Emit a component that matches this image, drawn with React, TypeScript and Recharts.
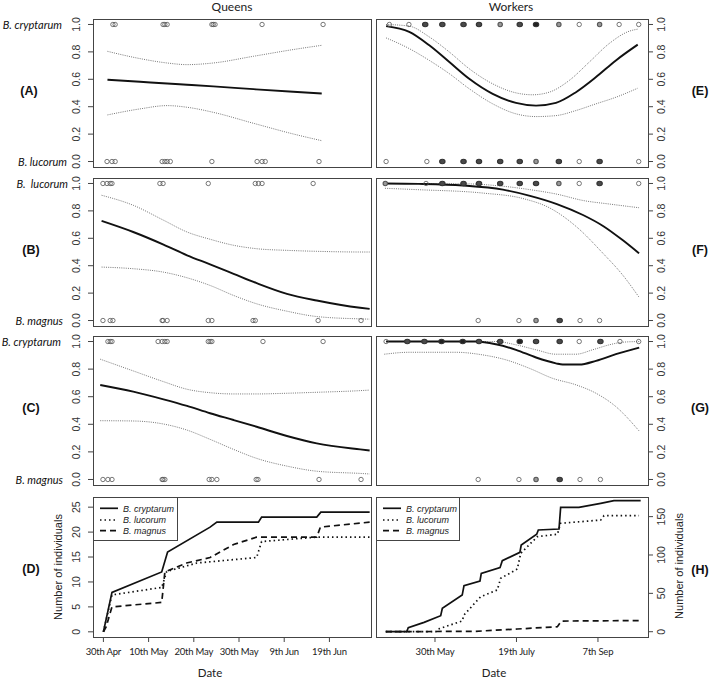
import React from 'react';
import { ComposedChart, Line, Scatter, XAxis, YAxis } from 'recharts';

type Pt = [number, number];

// x values are day of year (30th Apr = 120)
const queenTickDays = [120, 130, 140, 150, 160, 170];
const queenTickLabels = ['30th Apr', '10th May', '20th May', '30th May', '9th Jun', '19th Jun'];
const workerTickDays = [150, 200, 250];
const workerTickLabels = ['30th May', '19th July', '7th Sep'];
const probTicks = [0, 0.2, 0.4, 0.6, 0.8, 1];
const queenCountTicks = [0, 5, 10, 15, 20, 25];
const workerCountTicks = [0, 50, 100, 150];
const species = ['B. cryptarum', 'B. lucorum', 'B. magnus'];
const rowSpecies = [
  ['B. cryptarum', 'B. lucorum'],
  ['B.  lucorum', 'B. magnus'],
  ['B. cryptarum', 'B. magnus'],
];

// (A) queens, cryptarum vs lucorum
const aFit: Pt[] = [[120.9, 0.597], [128.1, 0.582], [134.1, 0.569], [138.5, 0.56], [144.3, 0.548], [153.2, 0.528], [162, 0.509], [168.3, 0.496]];
const aUpper: Pt[] = [[120.9, 0.804], [128.1, 0.751], [134.1, 0.719], [138.5, 0.707], [144.3, 0.719], [153.2, 0.768], [162, 0.817], [168.3, 0.848]];
const aLower: Pt[] = [[120.9, 0.34], [128.1, 0.384], [134.1, 0.408], [138.5, 0.396], [144.3, 0.359], [153.2, 0.279], [162, 0.201], [168.3, 0.152]];
const aTop = [122.1, 122.6, 133.2, 133.6, 134.1, 144.0, 144.3, 144.7, 155.1, 168.6];
const aBottom = [120.8, 121.9, 122.6, 133.0, 133.6, 134.1, 134.8, 144.0, 154.0, 155.1, 155.8, 167.7];

// (B) queens, lucorum vs magnus
const bFit: Pt[] = [[119.6, 0.727], [126.6, 0.646], [133.3, 0.554], [138.5, 0.476], [143.6, 0.41], [148.8, 0.341], [153.9, 0.273], [160.6, 0.195], [167.2, 0.146], [176.8, 0.093], [178.9, 0.085]];
const bUpper: Pt[] = [[119.6, 0.914], [126.6, 0.841], [133.3, 0.732], [138.5, 0.646], [143.6, 0.593], [148.8, 0.549], [153.9, 0.524], [160.6, 0.512], [167.2, 0.505], [176.8, 0.5], [178.9, 0.5]];
const bLower: Pt[] = [[119.6, 0.39], [126.6, 0.378], [133.3, 0.353], [138.5, 0.312], [143.6, 0.256], [148.8, 0.183], [153.9, 0.122], [160.6, 0.068], [167.2, 0.029], [176.8, 0.012], [178.9, 0.01]];
const bTop = [119.9, 120.8, 121.5, 121.9, 132.5, 133.2, 143.2, 153.6, 154.3, 155.1, 166.4];
const bBottom = [119.9, 121.5, 122.1, 133, 133.2, 134.1, 143.2, 144, 153.1, 153.6, 167.5, 177];

// (C) queens, cryptarum vs magnus
const cFit: Pt[] = [[119.3, 0.685], [126.6, 0.637], [133.3, 0.581], [138.5, 0.533], [143.6, 0.48], [148.8, 0.431], [153.9, 0.382], [160.6, 0.315], [167.2, 0.262], [176.8, 0.218], [178.9, 0.21]];
const cUpper: Pt[] = [[119.3, 0.872], [126.6, 0.787], [133.3, 0.709], [138.5, 0.654], [143.6, 0.629], [148.8, 0.62], [153.9, 0.62], [160.6, 0.625], [167.2, 0.632], [176.8, 0.644], [178.9, 0.648]];
const cLower: Pt[] = [[119.3, 0.426], [126.6, 0.424], [133.3, 0.402], [138.5, 0.358], [143.6, 0.291], [148.8, 0.218], [153.9, 0.153], [160.6, 0.097], [167.2, 0.06], [176.8, 0.044], [178.9, 0.04]];
const cTop = [121, 121.5, 121.9, 132.1, 133, 133.6, 134.1, 143.2, 143.6, 144, 155.3, 168.6];
const cBottom = [119.9, 121, 121.9, 133, 133.2, 133.6, 143.4, 144, 145.1, 153.8, 154.2, 167.7, 177];

// (D) queens, cumulative counts
const dCryptarum: Pt[] = [[120, 0], [121.9, 7.9], [132.9, 12], [134.2, 16], [143.6, 21], [145.1, 22], [154.3, 22], [155, 23], [167.2, 23], [168.1, 24], [178.9, 24]];
const dLucorum: Pt[] = [[120, 0], [121.9, 7.4], [132.9, 8.9], [134, 12.1], [140.7, 13.8], [153.9, 14.9], [155, 18.1], [167.2, 19], [178.9, 19]];
const dMagnus: Pt[] = [[120, 0], [120.6, 1], [121.9, 5], [132.9, 5.9], [133.6, 12], [138.4, 13.8], [143.6, 14.9], [148.8, 17.5], [153.9, 19], [167.2, 19], [168, 21], [178.9, 22]];

// (E) workers, cryptarum vs lucorum  (points: [day, overlap count])
const eFit: Pt[] = [[120, 0.988], [134.2, 0.946], [146.5, 0.848], [158.8, 0.726], [171, 0.604], [185.4, 0.494], [199.7, 0.428], [212, 0.408], [224.2, 0.428], [236.5, 0.506], [248.8, 0.616], [261, 0.738], [274.4, 0.853]];
const eUpper: Pt[] = [[120, 1.0], [134.2, 0.988], [146.5, 0.909], [158.8, 0.799], [171, 0.677], [185.4, 0.567], [199.7, 0.501], [209.9, 0.487], [220.1, 0.506], [232.4, 0.592], [244.7, 0.726], [256.9, 0.861], [269.2, 0.951], [274.4, 0.966]];
const eLower: Pt[] = [[120, 0.902], [134.2, 0.824], [146.5, 0.738], [158.8, 0.641], [171, 0.531], [185.4, 0.421], [199.7, 0.348], [212, 0.328], [224.2, 0.335], [236.5, 0.372], [248.8, 0.421], [261, 0.469], [274.4, 0.535]];
const eTop: Pt[] = [[122, 1], [134, 1], [144, 3], [154.5, 3], [167.5, 3], [177, 3], [190, 2], [202, 3], [212, 4], [226, 2], [238.5, 1], [251, 2], [263, 1], [275, 1]];
const eBottom: Pt[] = [[120, 1], [145, 1], [154.5, 3], [167.5, 3], [177, 3], [190, 3], [202, 3], [212, 2], [226, 3], [238.5, 1], [251, 3], [275, 1]];

// (F) workers, lucorum vs magnus
const fFit: Pt[] = [[119.3, 1.0], [140, 0.997], [167.2, 0.985], [191.7, 0.955], [208.3, 0.91], [224.8, 0.85], [240.8, 0.77], [253.1, 0.69], [265.3, 0.585], [275.2, 0.49]];
const fUpper: Pt[] = [[119.3, 1.0], [167.2, 0.998], [191.7, 0.98], [208.3, 0.955], [224.8, 0.922], [240.8, 0.876], [257, 0.85], [275.2, 0.823]];
const fLower: Pt[] = [[119.3, 0.965], [139, 0.955], [179.4, 0.93], [204, 0.89], [220.6, 0.82], [237.2, 0.68], [253.1, 0.49], [265.3, 0.33], [275.2, 0.17]];
const fTop: Pt[] = [[119.5, 2], [144.5, 1], [154.5, 3], [167.5, 3], [177, 3], [190, 3], [202, 3], [212, 3], [226, 2], [238.5, 1], [251, 3], [275, 1]];
const fBottom: Pt[] = [[176.5, 1], [201.5, 1], [212, 2], [226.5, 3], [239, 1], [251, 1]];

// (G) workers, cryptarum vs magnus
const gFit: Pt[] = [[120, 1.0], [175.2, 1.0], [187.4, 0.98], [199.7, 0.94], [212, 0.884], [224.2, 0.842], [228.3, 0.833], [238.5, 0.833], [248.8, 0.86], [261, 0.908], [275.3, 0.956]];
const gUpper: Pt[] = [[120, 1.0], [187.4, 1.0], [199.7, 0.976], [212, 0.94], [224.2, 0.908], [236.5, 0.908], [246.7, 0.94], [256.9, 0.976], [265.2, 0.995], [275.3, 1.0]];
const gLower: Pt[] = [[118.9, 0.908], [134.2, 0.922], [162.9, 0.922], [179.3, 0.903], [193.6, 0.867], [207.9, 0.806], [222.2, 0.733], [236.5, 0.686], [248.8, 0.625], [261, 0.528], [275.3, 0.351]];
const gTop: Pt[] = [[120, 1], [133, 3], [143.5, 3], [154, 4], [167, 4], [177, 3], [190, 3], [202, 4], [212, 3], [226.5, 3], [238.5, 1], [251.5, 3], [263.5, 1], [275, 1]];
const gBottom: Pt[] = [[176.5, 1], [201.5, 1], [212, 2], [226.5, 3], [239, 1], [251.5, 1]];

// (H) workers, cumulative counts
const hCryptarum: Pt[] = [[119.8, 0], [132.6, 0], [133.6, 5.2], [143.3, 12.2], [153.5, 20.9], [154.5, 30.5], [166.7, 47.8], [167.8, 60], [177.6, 66.1], [178.4, 76.1], [189.9, 83.5], [191.3, 92.6], [202.1, 103.5], [202.9, 113], [212.4, 127], [213.4, 132.6], [226.1, 133.9], [227.1, 162.2], [238.3, 162.2], [251.7, 167.4], [259.8, 170.8], [276.2, 170.8]];
const hLucorum: Pt[] = [[119.8, 0], [150.5, 0], [152, 3.5], [166.7, 14], [167.8, 21.8], [178, 45.6], [188.2, 54.4], [190.3, 69.6], [200.5, 81.7], [202.6, 102.2], [212.8, 123.9], [225.1, 127], [227.1, 141.3], [251.7, 145.6], [253.7, 151.2], [275.2, 151.2]];
const hMagnus: Pt[] = [[119.8, 0], [175, 0.5], [200.5, 3.5], [225.1, 6.5], [227.5, 13.9], [276.2, 14.5]];

const ARIAL = "'Liberation Sans', Arial, sans-serif";
const CAL = "Lato, 'Open Sans', sans-serif";

const QX: [number, number] = [117.7, 179.2];
const WX: [number, number] = [113.8, 280.7];
const PROB_Y: [number, number] = [-0.04, 1.04];

const lineStyles = [
  { dash: undefined as string | undefined, width: 1.7 },
  { dash: '1.5 3', width: 1.7 },
  { dash: '6 4', width: 1.7 },
];

const rows = (pts: Pt[]) => pts.map(([x, y]) => ({ x, y }));
const dots = (days: number[], y: number) => days.map((x) => ({ x, y, n: 1 }));
const dotsN = (pts: Pt[], y: number) => pts.map(([x, n]) => ({ x, y, n }));

const Dot = (p: any) => {
  const { cx, cy, payload } = p;
  const n = payload.n;
  const fill = n >= 4 ? '#222' : n === 3 ? '#4a4a4a' : n === 2 ? '#999' : 'none';
  return (
    <ellipse cx={cx} cy={cy} rx={n >= 3 ? 2.7 : 2.2} ry={2.2} fill={fill}
      stroke={n >= 3 ? '#333' : '#555'} strokeWidth={n >= 2 ? 1.1 : 0.8} />
  );
};

const vTick = (fmt: (v: number) => string) => (p: any) => (
  <text x={p.x} y={p.y} transform={`rotate(-90 ${p.x} ${p.y})`} textAnchor="middle"
    fontSize={10.5} fill="#333" fontFamily={ARIAL}>{fmt(p.payload.value)}</text>
);

const xTick = (days: number[], labels: string[]) => (p: any) => (
  <text x={p.x} y={p.y + 11} textAnchor="middle" fontSize={9.5} letterSpacing={-0.2} fill="#222" fontFamily={CAL}>
    {labels[days.indexOf(p.payload.value)]}
  </text>
);

const bandLines = (fit: Pt[], upper: Pt[], lower: Pt[]) => [
  <Line key="up" data={rows(upper)} dataKey="y" type="monotone" stroke="#666" strokeWidth={0.9}
    strokeDasharray="1 1.2" dot={false} activeDot={false} isAnimationActive={false} />,
  <Line key="lo" data={rows(lower)} dataKey="y" type="monotone" stroke="#666" strokeWidth={0.9}
    strokeDasharray="1 1.2" dot={false} activeDot={false} isAnimationActive={false} />,
  <Line key="fit" data={rows(fit)} dataKey="y" type="monotone" stroke="#111" strokeWidth={1.9}
    dot={false} activeDot={false} isAnimationActive={false} />,
];

const countLines = (series: Pt[][]) =>
  series.map((s, i) => (
    <Line key={species[i]} data={rows(s)} dataKey="y" type="linear" stroke="#111"
      strokeWidth={lineStyles[i].width} strokeDasharray={lineStyles[i].dash}
      dot={false} activeDot={false} isAnimationActive={false} />
  ));

const pointSets = (top: any[], bottom: any[]) => [
  <Scatter key="t" data={top} shape={Dot} isAnimationActive={false} />,
  <Scatter key="b" data={bottom} shape={Dot} isAnimationActive={false} />,
];

type Box = [number, number, number, number];

function Panel(props: {
  box: Box; side: 'left' | 'right'; xDomain: [number, number]; yDomain: [number, number];
  yTicks: number[]; yFmt: (v: number) => string; xTicks?: number[]; xLabels?: string[];
  children: React.ReactNode;
}) {
  const { box, side, xDomain, yDomain, yTicks, yFmt, xTicks, xLabels, children } = props;
  const [left, top, w, h] = box;
  const axisW = 40;
  const pad = 10;
  const showX = !!xTicks;
  return (
    <div style={{ position: 'absolute', left: side === 'left' ? left - axisW : left, top: top - pad }}>
      <ComposedChart width={w + axisW} height={h + 2 * pad + (showX ? 30 : 0)}
        margin={{ top: pad, right: 0, bottom: pad, left: 0 }}>
        <XAxis type="number" dataKey="x" domain={xDomain} allowDataOverflow hide={!showX}
          ticks={xTicks} interval={0} axisLine={false} tickLine={{ stroke: '#444' }} tickSize={5}
          tickMargin={2} height={30} tick={showX ? xTick(xTicks!, xLabels!) : false} />
        <YAxis type="number" dataKey="y" orientation={side} width={axisW} domain={yDomain}
          allowDataOverflow ticks={yTicks} interval={0} axisLine={false} tickLine={{ stroke: '#444' }}
          tickSize={5} tickMargin={side === 'left' ? 8 : 12} tick={vTick(yFmt)} />
        {children}
      </ComposedChart>
    </div>
  );
}

const boxes: Record<string, Box> = {
  A: [93, 19, 278, 148], B: [93, 178, 278, 148], C: [93, 336, 278, 149], D: [93, 497, 278, 140],
  E: [376, 19, 272, 148], F: [376, 178, 272, 148], G: [376, 336, 272, 149], H: [376, 497, 272, 140],
};

const prob = (v: number) => v.toFixed(1);
const count = (v: number) => String(v);

function LegendBox({ x, y, w }: { x: number; y: number; w: number }) {
  const offs = [11.3, 23, 33.7];
  return (
    <g>
      <rect x={x + 0.5} y={y + 0.5} width={w} height={43} fill="#fff" stroke="#444" strokeWidth={1} />
      {species.map((s, i) => (
        <g key={s}>
          <line x1={x + 7} x2={x + 25} y1={y + offs[i]} y2={y + offs[i]} stroke="#111"
            strokeWidth={lineStyles[i].width} strokeDasharray={lineStyles[i].dash} />
          <text x={x + 30} y={y + offs[i] + 3.3} fontSize={9} fontStyle="italic" fontFamily={ARIAL} fill="#222">{s}</text>
        </g>
      ))}
    </g>
  );
}

export default function App() {
  const probRows: [string, string, number][] = [['A', 'E', 0], ['B', 'F', 1], ['C', 'G', 2]];
  const labelEnds = [[62, 67], [68, 63], [61, 63]];
  return (
    <div style={{ position: 'absolute', left: 0, top: 0, width: 709, height: 678, background: '#fff', overflow: 'hidden' }}>
      <Panel box={boxes.A} side="left" xDomain={QX} yDomain={PROB_Y} yTicks={probTicks} yFmt={prob}>
        {bandLines(aFit, aUpper, aLower)}
        {pointSets(dots(aTop, 1), dots(aBottom, 0))}
      </Panel>
      <Panel box={boxes.B} side="left" xDomain={QX} yDomain={PROB_Y} yTicks={probTicks} yFmt={prob}>
        {bandLines(bFit, bUpper, bLower)}
        {pointSets(dots(bTop, 1), dots(bBottom, 0))}
      </Panel>
      <Panel box={boxes.C} side="left" xDomain={QX} yDomain={PROB_Y} yTicks={probTicks} yFmt={prob}>
        {bandLines(cFit, cUpper, cLower)}
        {pointSets(dots(cTop, 1), dots(cBottom, 0))}
      </Panel>
      <Panel box={boxes.D} side="left" xDomain={QX} yDomain={[-1.04, 27.04]} yTicks={queenCountTicks} yFmt={count}
        xTicks={queenTickDays} xLabels={queenTickLabels}>
        {countLines([dCryptarum, dLucorum, dMagnus])}
      </Panel>
      <Panel box={boxes.E} side="right" xDomain={WX} yDomain={PROB_Y} yTicks={probTicks} yFmt={prob}>
        {bandLines(eFit, eUpper, eLower)}
        {pointSets(dotsN(eTop, 1), dotsN(eBottom, 0))}
      </Panel>
      <Panel box={boxes.F} side="right" xDomain={WX} yDomain={PROB_Y} yTicks={probTicks} yFmt={prob}>
        {bandLines(fFit, fUpper, fLower)}
        {pointSets(dotsN(fTop, 1), dotsN(fBottom, 0))}
      </Panel>
      <Panel box={boxes.G} side="right" xDomain={WX} yDomain={PROB_Y} yTicks={probTicks} yFmt={prob}>
        {bandLines(gFit, gUpper, gLower)}
        {pointSets(dotsN(gTop, 1), dotsN(gBottom, 0))}
      </Panel>
      <Panel box={boxes.H} side="right" xDomain={WX} yDomain={[-6.9, 175.6]} yTicks={workerCountTicks} yFmt={count}
        xTicks={workerTickDays} xLabels={workerTickLabels}>
        {countLines([hCryptarum, hLucorum, hMagnus])}
      </Panel>

      <svg width={709} height={678} style={{ position: 'absolute', left: 0, top: 0, pointerEvents: 'none' }}>
        {Object.entries(boxes).map(([k, [x, y, w, h]]) => (
          <rect key={k} x={x + 0.5} y={y + 0.5} width={w} height={h} fill="none" stroke="#444" strokeWidth={1} />
        ))}
        <text x={232} y={11} textAnchor="middle" fontSize={12} fontFamily={CAL} fill="#222">Queens</text>
        <text x={511} y={11} textAnchor="middle" fontSize={12} fontFamily={CAL} fill="#222">Workers</text>

        {probRows.map(([l, r, i]) => {
          const [, top, , h] = boxes[l];
          const y1 = top + (h * 0.04) / 1.08;
          const y0 = top + (h * 1.04) / 1.08;
          return (
            <g key={l}>
              <text x={labelEnds[i][0]} y={y1 + 4.3} textAnchor="end" fontSize={11} fontStyle="italic"
                fontFamily={CAL} fill="#111" style={{ whiteSpace: 'pre' }}>{rowSpecies[i][0]}</text>
              <text x={labelEnds[i][1]} y={y0 + 4.3} textAnchor="end" fontSize={11} fontStyle="italic"
                fontFamily={CAL} fill="#111" style={{ whiteSpace: 'pre' }}>{rowSpecies[i][1]}</text>
              <text x={i === 0 ? 29 : 31} y={top + h * 0.48 + 4.5} textAnchor="middle" fontSize={12.5}
                fontWeight="bold" fontFamily={ARIAL} fill="#111">({l})</text>
              <text x={700} y={top + h * 0.48 + 4.5} textAnchor="middle" fontSize={12.5}
                fontWeight="bold" fontFamily={ARIAL} fill="#111">({r})</text>
            </g>
          );
        })}
        <text x={31} y={573} textAnchor="middle" fontSize={12.5} fontWeight="bold" fontFamily={ARIAL} fill="#111">(D)</text>
        <text x={700} y={574} textAnchor="middle" fontSize={12.5} fontWeight="bold" fontFamily={ARIAL} fill="#111">(H)</text>

        <text x={62} y={567} transform="rotate(-90 62 567)" textAnchor="middle" fontSize={11} fontFamily={ARIAL} fill="#222">Number of individuals</text>
        <text x={683} y={566} transform="rotate(-90 683 566)" textAnchor="middle" fontSize={11} fontFamily={ARIAL} fill="#222">Number of individuals</text>
        <text x={210} y={677} textAnchor="middle" fontSize={11.5} fontFamily={CAL} fill="#222">Date</text>
        <text x={494} y={677} textAnchor="middle" fontSize={11.5} fontFamily={CAL} fill="#222">Date</text>

        <LegendBox x={93} y={497} w={84} />
        <LegendBox x={376} y={497} w={83} />
      </svg>
    </div>
  );
}
